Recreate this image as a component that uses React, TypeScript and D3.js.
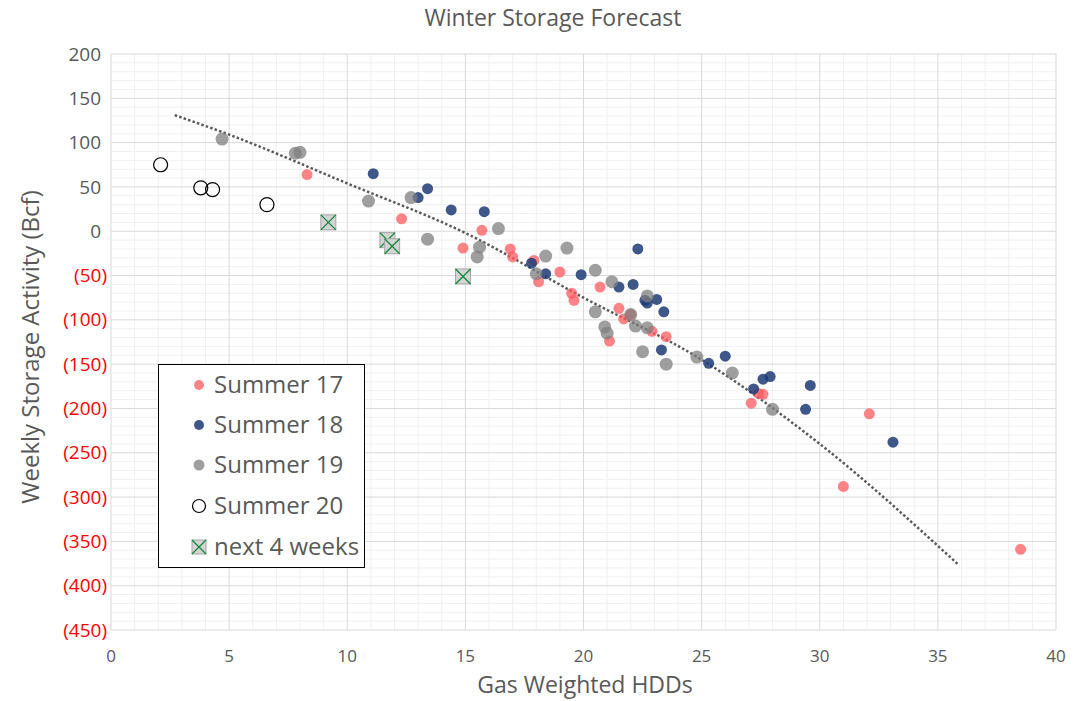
import React from 'react';
import * as d3 from 'd3';

// values: [HDDs, Bcf]
const summer17: [number, number][] = [
  [8.3, 64], [12.3, 14], [14.9, -19], [15.7, 1], [16.9, -20], [17.0, -29], [17.9, -33],
  [18.1, -57], [19.0, -46], [19.5, -70], [19.6, -78], [20.7, -63], [21.5, -87], [21.7, -99],
  [22.0, -94], [22.9, -113], [23.5, -119], [21.1, -124], [27.4, -183], [27.6, -184],
  [27.1, -194], [31.0, -288], [32.1, -206], [38.5, -359],
];

const summer18: [number, number][] = [
  [11.1, 65], [13.4, 48], [13.0, 38], [14.4, 24], [15.8, 22], [17.8, -36], [18.4, -48],
  [19.9, -49], [22.3, -20], [21.5, -63], [22.1, -60], [22.6, -78], [22.7, -81], [23.1, -77],
  [23.4, -91], [23.3, -134], [25.3, -149], [26.0, -141], [27.2, -178], [27.6, -167],
  [27.9, -164], [29.6, -174], [29.4, -201], [33.1, -238],
];

const summer19: [number, number][] = [
  [4.7, 104], [7.8, 88], [8.0, 89], [10.9, 34], [12.7, 38], [13.4, -9], [16.4, 3],
  [15.6, -18], [15.5, -29], [18.0, -48], [18.4, -28], [19.3, -19], [20.5, -44], [21.2, -57],
  [22.7, -73], [22.0, -94], [22.2, -107], [22.7, -109], [20.5, -91], [20.9, -108],
  [21.0, -115], [22.5, -136], [23.5, -150], [24.8, -142], [26.3, -160], [28.0, -201],
];

const summer20: [number, number][] = [[2.1, 75], [3.8, 49], [4.3, 47], [6.6, 30]];

const next4Weeks: [number, number][] = [[9.2, 10], [11.7, -10], [11.9, -17], [14.9, -51]];

// dotted trend line
const trendX = [2.7, 5, 10, 15, 20, 25, 30, 35.9];
const trendY = [131, 109, 54, -2, -75, -145, -240, -377];

const xTicks = [0, 5, 10, 15, 20, 25, 30, 35, 40];
const yTicks = [200, 150, 100, 50, 0, -50, -100, -150, -200, -250, -300, -350, -400, -450];

const legendItems = ['Summer 17', 'Summer 18', 'Summer 19', 'Summer 20', 'next 4 weeks'];

const FONT = '"Open Sans", "Noto Sans", sans-serif';
const TEXT = '#595959';

const x = d3.scaleLinear().domain([0, 40]).range([111, 1056]);
const y = d3.scaleLinear().domain([-450, 200]).range([630, 54]);

const fmt = (v: number) => (v < 0 ? `(${-v})` : `${v}`);

const Square = ({ cx, cy, s = 15 }: { cx: number; cy: number; s?: number }) => (
  <g>
    <rect x={cx - s / 2} y={cy - s / 2} width={s} height={s} fill="#d4d4d4" stroke="#a6a6a6" strokeWidth={1} />
    <line x1={cx - s / 2} y1={cy - s / 2} x2={cx + s / 2} y2={cy + s / 2} stroke="#0f8a3c" strokeWidth={1.3} />
    <line x1={cx - s / 2} y1={cy + s / 2} x2={cx + s / 2} y2={cy - s / 2} stroke="#0f8a3c" strokeWidth={1.3} />
  </g>
);

export default function App() {
  const minorX = d3.range(0, 41, 1).filter((v) => v % 5 !== 0);
  const minorY = d3.range(-450, 201, 10).filter((v) => v % 50 !== 0);

  const trend = d3.line<number>()
    .x((d, i) => x(trendX[i]))
    .y((d) => y(d))
    .curve(d3.curveMonotoneX)(trendY);

  const legendX = 199;
  const legendRows = [385, 425, 465, 506, 547];

  return (
    <svg width={1074} height={701} style={{ position: 'absolute', left: 0, top: 0, background: '#fff' }}>
      <text x={553} y={26} textAnchor="middle" fontFamily={FONT} fontSize={23} fill={TEXT}>
        Winter Storage Forecast
      </text>

      {/* minor grid */}
      {minorX.map((v) => (
        <line key={'mx' + v} x1={x(v)} x2={x(v)} y1={54} y2={630} stroke="#f0f0f0" />
      ))}
      {minorY.map((v) => (
        <line key={'my' + v} x1={111} x2={1056} y1={y(v)} y2={y(v)} stroke="#f0f0f0" />
      ))}
      {/* major grid */}
      {xTicks.map((v) => (
        <line key={'gx' + v} x1={x(v)} x2={x(v)} y1={54} y2={630} stroke="#d9d9d9" />
      ))}
      {yTicks.map((v) => (
        <line key={'gy' + v} x1={111} x2={1056} y1={y(v)} y2={y(v)} stroke="#d9d9d9" />
      ))}

      {/* tick labels */}
      {yTicks.map((v) => (
        <text key={'ty' + v} x={v < 0 ? 107 : 101} y={y(v)} dy="0.35em" textAnchor="end"
          fontFamily={FONT} fontSize={19} fill={v < 0 ? '#ff0000' : TEXT}>
          {fmt(v)}
        </text>
      ))}
      {xTicks.map((v) => (
        <text key={'tx' + v} x={x(v)} y={662} textAnchor="middle" fontFamily={FONT} fontSize={17} fill={TEXT}>
          {v}
        </text>
      ))}

      <text x={585} y={693} textAnchor="middle" fontFamily={FONT} fontSize={23} fill={TEXT}>
        Gas Weighted HDDs
      </text>
      <text transform="translate(31,347) rotate(-90)" textAnchor="middle" dy="0.35em"
        fontFamily={FONT} fontSize={24} fill={TEXT}>
        Weekly Storage Activity (Bcf)
      </text>

      <path d={trend || ''} fill="none" stroke="#5a5a5a" strokeWidth={2.5} strokeDasharray="2.5 2.2" />

      {summer17.map((d, i) => (
        <circle key={'a' + i} cx={x(d[0])} cy={y(d[1])} r={5.5} fill="#ff5a5f" fillOpacity={0.75} />
      ))}
      {summer18.map((d, i) => (
        <circle key={'b' + i} cx={x(d[0])} cy={y(d[1])} r={5.5} fill="#1f3a75" fillOpacity={0.85} />
      ))}
      {summer19.map((d, i) => (
        <circle key={'c' + i} cx={x(d[0])} cy={y(d[1])} r={6.5} fill="#7f7f7f" fillOpacity={0.75} />
      ))}
      {summer20.map((d, i) => (
        <circle key={'d' + i} cx={x(d[0])} cy={y(d[1])} r={7} fill="none" stroke="#000" strokeWidth={1.2} />
      ))}
      {next4Weeks.map((d, i) => (
        <Square key={'e' + i} cx={x(d[0])} cy={y(d[1])} />
      ))}

      {/* legend */}
      <rect x={158.5} y={364.5} width={206} height={203} fill="#fff" stroke="#000" strokeWidth={1} />
      <circle cx={legendX} cy={legendRows[0]} r={5} fill="#ff5a5f" fillOpacity={0.75} />
      <circle cx={legendX} cy={legendRows[1]} r={5} fill="#1f3a75" fillOpacity={0.85} />
      <circle cx={legendX} cy={legendRows[2]} r={5.5} fill="#7f7f7f" fillOpacity={0.75} />
      <circle cx={legendX} cy={legendRows[3]} r={6.5} fill="none" stroke="#000" strokeWidth={1.2} />
      <Square cx={legendX} cy={legendRows[4]} s={14} />
      {legendItems.map((t, i) => (
        <text key={t} x={214} y={legendRows[i]} dy="0.35em" fontFamily={FONT} fontSize={24} fill={TEXT}>
          {t}
        </text>
      ))}
    </svg>
  );
}
